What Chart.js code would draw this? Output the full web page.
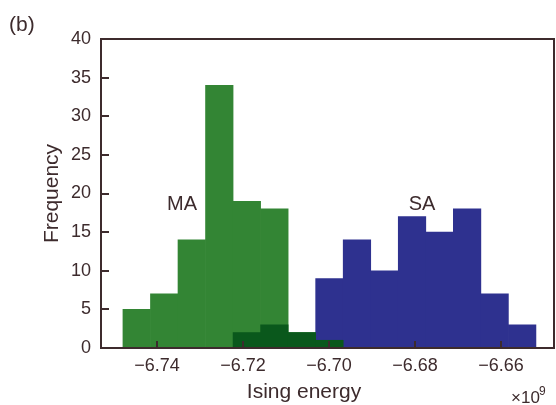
<!DOCTYPE html>
<html>
<head>
<meta charset="utf-8">
<script src="https://cdn.jsdelivr.net/npm/chart.js@4.4.1/dist/chart.umd.min.js"></script>
<style>
  html, body { margin: 0; padding: 0; background: #fff; }
  #wrap { width: 556px; height: 405px; }
</style>
</head>
<body>
<div id="wrap"><canvas id="hist"></canvas></div>
<script>
// histogram bins (x10^9), bin width ~0.0064
const binCenters = [-6.7447, -6.7383, -6.7319, -6.7255, -6.7191, -6.7127, -6.7063, -6.6999,
                    -6.6935, -6.6871, -6.6807, -6.6743, -6.6679, -6.6615, -6.6551];
const maCounts      = [5, 7, 14, 34, 19, 18, 2, 1, 0, 0, 0, 0, 0, 0, 0];
const overlapCounts = [0, 0, 0, 0, 2, 3, 2, 1, 0, 0, 0, 0, 0, 0, 0];
const saCounts      = [0, 0, 0, 0, 0, 0, 0, 9, 14, 10, 17, 15, 18, 7, 3];
const xTicks = [-6.74, -6.72, -6.70, -6.68, -6.66];
const yTicks = [0, 5, 10, 15, 20, 25, 30, 35, 40];

const ink = '#3d2b2d';
const fam = '"Liberation Sans", Arial, sans-serif';

const toPoints = counts => binCenters.map((c, i) => ({ x: c, y: counts[i] }));

// frame, inward ticks and free text
const decor = {
    id: 'decor',
    afterDatasetsDraw(chart) {
        const { ctx, chartArea: a, scales: { x, y } } = chart;
        ctx.save();
        ctx.strokeStyle = ink;
        ctx.lineWidth = 2;
        ctx.strokeRect(a.left, a.top, a.right - a.left, a.bottom - a.top);
        ctx.beginPath();
        x.ticks.forEach(t => {
            const px = Math.round(x.getPixelForValue(t.value));
            ctx.moveTo(px, a.bottom);
            ctx.lineTo(px, a.bottom - 7);
        });
        y.ticks.forEach(t => {
            const py = Math.round(y.getPixelForValue(t.value));
            ctx.moveTo(a.left, py);
            ctx.lineTo(a.left + 8, py);
        });
        ctx.stroke();

        ctx.fillStyle = ink;
        ctx.textBaseline = 'alphabetic';
        ctx.font = '21px ' + fam;
        ctx.textAlign = 'left';
        ctx.fillText('(b)', 9, 31);
        ctx.font = '20px ' + fam;
        ctx.textAlign = 'center';
        ctx.fillText('MA', 182, 210);
        ctx.fillText('SA', 422, 210);
        ctx.font = '21px ' + fam;
        ctx.fillText('Ising energy', 304, 398);
        ctx.textAlign = 'left';
        ctx.font = '17px ' + fam;
        ctx.fillText('\u00d710', 511, 403);
        ctx.font = '12px ' + fam;
        ctx.fillText('9', 539, 395);
        ctx.restore();
    }
};

new Chart(document.getElementById('hist'), {
    type: 'bar',
    data: {
        datasets: [
            { label: 'overlap', data: toPoints(overlapCounts), backgroundColor: 'rgb(10,88,28)', order: 0 },
            { label: 'SA', data: toPoints(saCounts), backgroundColor: 'rgb(46,49,143)', order: 1 },
            { label: 'MA', data: toPoints(maCounts), backgroundColor: 'rgb(51,133,52)', order: 2 }
        ]
    },
    options: {
        responsive: true,
        maintainAspectRatio: false,
        animation: false,
        events: [],
        layout: { padding: { top: 39, right: 2, left: 0, bottom: 0 } },
        datasets: {
            bar: { grouped: false, barPercentage: 1, categoryPercentage: 1, borderWidth: 0 }
        },
        plugins: { legend: { display: false }, tooltip: { enabled: false } },
        scales: {
            x: {
                type: 'linear',
                offset: false,
                min: -6.753,
                max: -6.6477,
                grid: { display: false, offset: false, drawTicks: false },
                border: { display: false },
                afterBuildTicks: s => { s.ticks = xTicks.map(v => ({ value: v })); },
                afterFit: s => { s.height = 57; },
                ticks: {
                    padding: 7,
                    color: ink,
                    font: { size: 18, family: fam },
                    maxRotation: 0,
                    callback: v => '\u2212' + Math.abs(v).toFixed(2)
                }
            },
            y: {
                min: 0,
                max: 40,
                grid: { display: false, drawTicks: false },
                border: { display: false },
                afterBuildTicks: s => { s.ticks = yTicks.map(v => ({ value: v })); },
                afterFit: s => { s.width = 101; },
                ticks: {
                    padding: 10,
                    color: ink,
                    font: { size: 18, family: fam }
                },
                title: {
                    display: true,
                    text: 'Frequency',
                    color: ink,
                    font: { size: 21, family: fam },
                    padding: { top: 40, bottom: 0 }
                }
            }
        }
    },
    plugins: [decor]
});
</script>
</body>
</html>
